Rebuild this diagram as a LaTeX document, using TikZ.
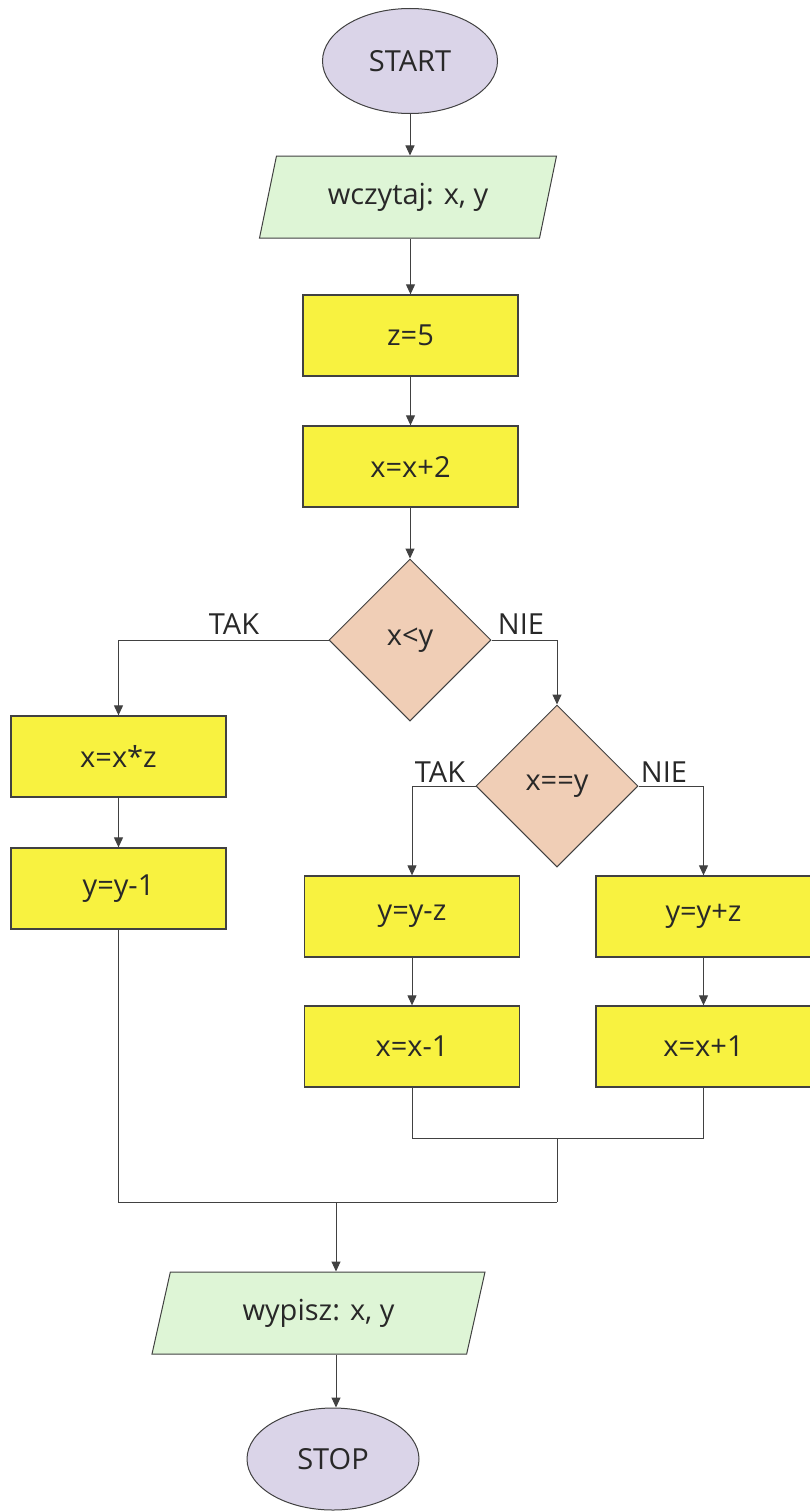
\documentclass[tikz,border=0pt]{standalone}
\usepackage{fontspec}
\setmainfont{Open Sans}
\usetikzlibrary{shapes.geometric,arrows.meta,calc}
\definecolor{lav}{RGB}{218,212,232}
\definecolor{mint}{RGB}{222,245,214}
\definecolor{lemon}{RGB}{248,242,64}
\definecolor{peach}{RGB}{240,206,182}
\definecolor{ink}{RGB}{40,40,40}
\definecolor{linec}{RGB}{65,65,65}
\begin{document}
\begin{tikzpicture}[x=1pt,y=-1pt,
  every node/.style={font=\fontsize{29}{34}\selectfont, text=ink},
  term/.style={ellipse, draw=linec, line width=1pt, fill=lav, minimum width=175, minimum height=105, inner sep=0},
  io/.style={trapezium, trapezium left angle=59, trapezium right angle=121, trapezium stretches body, draw=linec, line width=1pt, fill=mint, minimum width=297, minimum height=82, inner sep=0},
  proc/.style={rectangle, draw=linec, line width=1.3pt, fill=lemon, minimum width=215, minimum height=81, inner sep=0},
  dec/.style={diamond, draw=linec, line width=1pt, fill=peach, minimum width=162, minimum height=162, inner sep=0},
  flow/.style={draw=linec, line width=1pt, -{Triangle[length=10pt,width=9pt]}},
  link/.style={draw=linec, line width=1pt},
  lab/.style={inner sep=0}
]
\useasboundingbox (0,0) rectangle (809,1512);
\node[term] (start) at (410,61) {START};
\node[io] (in) at (408,197) {wczytaj: x, y};
\node[proc] (z) at (410.5,335.5) {z=5};
\node[proc] (xp2) at (410.5,466.5) {x=x+2};
\node[dec] (d1) at (410,640) {x<y};
\node[proc] (xxz) at (118.5,756.5) {x=x*z};
\node[proc] (yy1) at (118.5,888.5) {y=y-1};
\node[dec] (d2) at (557,786) {x==y};
\node[proc] (yyz) at (412,916.5) {y=y-z};
\node[proc] (yypz) at (703.5,916.5) {y=y+z};
\node[proc] (xm1) at (412,1046.5) {x=x-1};
\node[proc] (xp1) at (703.5,1046.5) {x=x+1};
\node[io, trapezium left angle=57, trapezium right angle=123, minimum width=333] (out) at (318.5,1313) {wypisz: x, y};
\node[term, minimum width=172, minimum height=102] (stop) at (333,1459) {STOP};

\node[lab, anchor=south] (t1) at (234,635) {TAK};
\node[lab, anchor=south] (n1) at (521,635) {NIE};
\node[lab, anchor=south] (t2) at (440,783) {TAK};
\node[lab, anchor=south] (n2) at (664,783) {NIE};

\coordinate (m1) at (557,1138);
\coordinate (m2) at (336,1202);

\draw[flow] (start.south) -- (start.south |- in.north);
\draw[flow] (z.north |- in.south) -- (z.north);
\draw[flow] (z) -- (xp2);
\draw[flow] (d1.north |- xp2.south) -- (d1.north);
\draw[flow] (d1.west) -| (xxz.north);
\draw[flow] (d1.east) -| (d2.north);
\draw[flow] (xxz) -- (yy1);
\draw[flow] (d2.west) -| (yyz.north);
\draw[flow] (d2.east) -| (yypz.north);
\draw[flow] (yyz) -- (xm1);
\draw[flow] (yypz) -- (xp1);
\draw[link] (xm1.south) |- (m1) -| (xp1.south);
\draw[link] (m1) -- (m1 |- m2);
\draw[link] (yy1.south) |- (m1 |- m2);
\draw[flow] (m2) -- (m2 |- out.north);
\draw[flow] (m2 |- out.south) -- (m2 |- stop.north);
\end{tikzpicture}
\end{document}
